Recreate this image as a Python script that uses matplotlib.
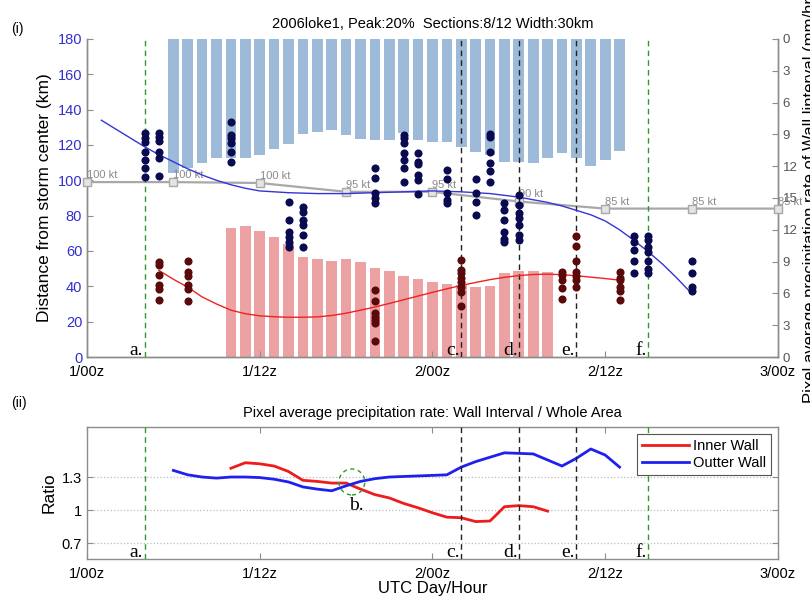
import matplotlib
matplotlib.use("Agg")
import matplotlib.pyplot as plt
from matplotlib.patches import Ellipse

plt.rcParams.update({
    "font.family": ["Liberation Sans", "DejaVu Sans"],
    "font.size": 10,
    "xtick.direction": "in",
    "ytick.direction": "in",
    "axes.edgecolor": "#8c8c8c",
    "axes.linewidth": 1.0,
})

NAVY = "#0a0a50"
MAROON = "#5a0a0a"
BAR_BLUE = "#9dbad9"
BAR_RED = "#eca2a2"
GREEN = "#2e9a2e"

# x axis: hours since 1/00z
hour_ticks = [0, 12, 24, 36, 48]
hour_labels = ["1/00z", "1/12z", "2/00z", "2/12z", "3/00z"]

# precipitation rate of wall interval (mm/hr)
outer_bar_hours = list(range(6, 38))
outer_bar_rate = [12.6, 12.2, 11.7, 11.2, 11.2, 11.2, 10.9, 10.4, 9.9, 9.0,
                  8.8, 8.6, 9.1, 9.4, 9.5, 9.5, 8.9, 9.5, 9.7, 9.7, 10.2,
                  10.7, 10.9, 11.6, 11.6, 11.7, 11.2, 10.8, 11.2, 12.0, 11.4, 10.6]
inner_bar_hours = list(range(10, 33))
inner_bar_rate = [12.2, 12.4, 11.9, 11.3, 10.7, 9.4, 9.2, 9.1, 9.2, 9.0, 8.4,
                  8.1, 7.6, 7.4, 7.1, 6.9, 6.8, 6.6, 6.7, 7.9, 8.1, 8.1, 8.0]

# intensity track
kt_hours = [0, 6, 12, 18, 24, 30, 36, 42, 48]
kt_dist = [99, 99, 98.5, 93.5, 93.5, 88, 84, 84, 84]
kt_labels = ["100 kt", "100 kt", "100 kt", "95 kt", "95 kt", "90 kt",
             "85 kt", "85 kt", "85 kt"]

# wall locations (km)
outer_dots = {
    4: [127, 124, 121.5, 116, 111.5, 107, 102],
    5: [127, 124.5, 122, 116, 112.5, 102.5],
    10: [133, 125.5, 124, 121, 116, 110.5],
    14: [87.5, 77.5, 70.5, 68, 65, 62],
    15: [85, 82, 77.5, 74.5, 69, 62],
    20: [107, 101.5, 93, 90, 87],
    22: [125.5, 124, 121, 115.5, 111.5, 107, 99],
    23: [115.5, 110.5, 109, 103, 100, 92.5],
    25: [106, 101, 93, 89, 87],
    27: [101, 93, 87.5, 80.5],
    28: [126.5, 124.5, 116, 110, 105, 99],
    29: [87, 83, 77.5, 70.5, 67, 65],
    30: [91.5, 86, 81.5, 78.5, 74.5, 69, 66],
    38: [68.5, 65, 60.5, 54.5, 47.5],
    39: [68.5, 66, 62, 59.5, 54.5, 50, 47.5],
    42: [54.5, 47.5, 39.5, 37.5],
}
inner_dots = {
    5: [54, 52, 46.5, 40.5, 38.5, 32],
    7: [54.5, 48, 46, 41, 38.5, 31.5],
    20: [38, 31.5, 25, 22.5, 21, 19, 9],
    26: [55, 49, 47.5, 44.5, 42.5, 39.5, 37, 29],
    33: [48, 46.5, 43.5, 39, 33],
    34: [68.5, 63, 54.5, 48, 46, 43.5, 39.5],
    37: [48, 45, 43.5, 39.5, 37.5, 32],
}

# fitted curves
outer_fit_h = [1, 2, 3, 4, 5, 6, 7, 8, 9, 10, 11, 12, 14, 16, 18, 20, 22, 24,
               26, 28, 30, 31, 32, 33, 34, 35, 36, 37, 38, 39, 40, 41, 42]
outer_fit_km = [134, 129, 124, 119, 114.5, 110.5, 106.5, 103, 100, 97.5, 95.5,
                94, 93, 92.5, 92.5, 93, 93.5, 94, 93.5, 92.5, 90.5, 89, 87.5,
                85.5, 83, 80.5, 77, 72, 66, 59.5, 52.5, 44.5, 36]
inner_fit_h = list(range(5, 38))
inner_fit_km = [49, 44, 39.5, 34, 30, 26.5, 24.5, 23.3, 22.8, 22.5, 22.5, 22.7,
                23.5, 24.8, 26.5, 28.3, 30.3, 32.4, 34.5, 36.6, 38.6, 40.5,
                42.2, 43.8, 45.1, 46.1, 46.7, 46.9, 46.6, 46.0, 45.2, 44.4, 43.5]

# ratio panel
ratio_inner_h = list(range(10, 33))
ratio_inner = [1.38, 1.43, 1.42, 1.40, 1.35, 1.27, 1.26, 1.245, 1.245, 1.19,
               1.14, 1.11, 1.06, 1.02, 0.975, 0.935, 0.93, 0.895, 0.90, 1.03,
               1.04, 1.03, 0.99]
ratio_outer_h = list(range(6, 38))
ratio_outer = [1.36, 1.32, 1.30, 1.29, 1.30, 1.30, 1.295, 1.28, 1.255, 1.21,
               1.19, 1.175, 1.22, 1.26, 1.285, 1.30, 1.305, 1.31, 1.315, 1.32,
               1.39, 1.44, 1.48, 1.52, 1.515, 1.51, 1.455, 1.40, 1.47, 1.555,
               1.50, 1.39]

green_events = [(4, "a."), (39, "f.")]
black_events = [(26, "c."), (30, "d."), (34, "e.")]


def draw_events(ax):
    for h, lab in green_events + black_events:
        col = GREEN if (h, lab) in green_events else "#222222"
        ax.axvline(h, color=col, lw=1.0, ls=(0, (4, 3)), zorder=4)
        ax.annotate(lab, xy=(h, 0), xycoords=("data", "axes fraction"),
                    xytext=(-1, -1.5), textcoords="offset points",
                    ha="right", va="bottom", family="Liberation Serif",
                    fontsize=14, annotation_clip=False)


fig = plt.figure(figsize=(8.10, 5.97), dpi=100)

# ---- (i) wall location panel -------------------------------------------
ax = fig.add_axes([0.1074, 0.402, 0.853, 0.5327])
axr = ax.twinx()
ax.set_zorder(axr.get_zorder() + 1)
ax.patch.set_visible(False)

axr.bar(outer_bar_hours, [-r for r in outer_bar_rate], bottom=30, width=0.74,
        color=BAR_BLUE, linewidth=0)
axr.bar(inner_bar_hours, inner_bar_rate, width=0.74, color=BAR_RED, linewidth=0)
axr.set_ylim(0, 30)
axr.set_yticks([0, 3, 6, 9, 12, 15, 18, 21, 24, 27, 30])
axr.set_yticklabels(["0", "3", "6", "9", "12", "15", "12", "9", "6", "3", "0"])
axr.tick_params(axis="y", colors="#8c8c8c", labelcolor="#555555", labelsize=9.5,
                length=4)
axr.set_ylabel("Pixel average precipitation rate of Wall linterval (mm/hr)",
               fontsize=12, labelpad=4)

ax.plot(kt_hours, kt_dist, color="#a8a8a8", lw=1.6, marker="s", ms=5.5,
        mfc="#e4e4e4", mec="#a8a8a8", zorder=3, clip_on=False)
for h, d, lab in zip(kt_hours, kt_dist, kt_labels):
    ax.annotate(lab, (h, d), xytext=(0, 1.5), textcoords="offset points",
                fontsize=8, color="#8a8a8a", ha="left", va="bottom",
                annotation_clip=False)

ax.plot(outer_fit_h, outer_fit_km, color="#3434d8", lw=1.0, zorder=5)
ax.plot(inner_fit_h, inner_fit_km, color="#ee2222", lw=1.0, zorder=5)

for h, kms in outer_dots.items():
    ax.scatter([h] * len(kms), kms, s=34, color=NAVY, zorder=6, linewidths=0)
for h, kms in inner_dots.items():
    ax.scatter([h] * len(kms), kms, s=34, color=MAROON, zorder=6, linewidths=0)

draw_events(ax)

ax.set_xlim(0, 48)
ax.set_ylim(0, 180)
ax.set_yticks(range(0, 181, 20))
ax.tick_params(axis="y", colors="#8c8c8c", labelcolor="#3030cc", labelsize=10.5,
               length=4)
ax.set_xticks(hour_ticks)
ax.set_xticklabels(hour_labels)
ax.tick_params(axis="x", colors="#8c8c8c", labelcolor="black", labelsize=10.5,
               length=4, pad=6)
ax.set_ylabel("Distance from storm center (km)", fontsize=12.5)
for a in (ax, axr):
    a.spines["top"].set_visible(False)
ax.set_title("2006loke1, Peak:20%  Sections:8/12 Width:30km", fontsize=10.5,
             pad=8)
fig.text(0.014, 0.945, "(i)", fontsize=10)

# ---- (ii) ratio panel ----------------------------------------------------
bx = fig.add_axes([0.1074, 0.0637, 0.853, 0.2211])
bx.plot(ratio_inner_h, ratio_inner, color="#ee1c1c", lw=2, label="Inner Wall")
bx.plot(ratio_outer_h, ratio_outer, color="#2020ee", lw=2, label="Outter Wall")
draw_events(bx)

bx.add_patch(Ellipse((18.4, 1.255), 1.8, 0.236, fill=False, ec=GREEN, lw=1.0,
                     ls=(0, (3, 2.5)), zorder=5))
bx.text(18.2, 1.0, "b.", family="Liberation Serif", fontsize=14,
        ha="left", va="baseline")

bx.set_xlim(0, 48)
bx.set_ylim(0.555, 1.755)
bx.set_yticks([0.7, 1, 1.3])
bx.set_yticklabels(["0.7", "1", "1.3"])
bx.set_xticks(hour_ticks)
bx.set_xticklabels(hour_labels)
bx.grid(axis="y", color="#bdbdbd", ls=":", lw=0.9)
bx.tick_params(colors="#8c8c8c", labelcolor="black", labelsize=10.5, length=4,
               top=True, right=True)
bx.tick_params(axis="x", pad=6)
bx.set_xlabel("UTC Day/Hour", fontsize=12, labelpad=0)
bx.set_ylabel("Ratio", fontsize=12.5)
bx.set_title("Pixel average precipitation rate: Wall Interval / Whole Area",
             fontsize=10.5, pad=7)
leg = bx.legend(loc="upper right", fontsize=10.5, handlelength=3.2,
                borderaxespad=0.45, fancybox=False, framealpha=1,
                handletextpad=0.3, labelspacing=0.25, borderpad=0.35)
leg.get_frame().set_edgecolor("#555555")
leg.get_frame().set_linewidth(0.8)
fig.text(0.014, 0.318, "(ii)", fontsize=10)

fig.savefig("out.png", dpi=100)
